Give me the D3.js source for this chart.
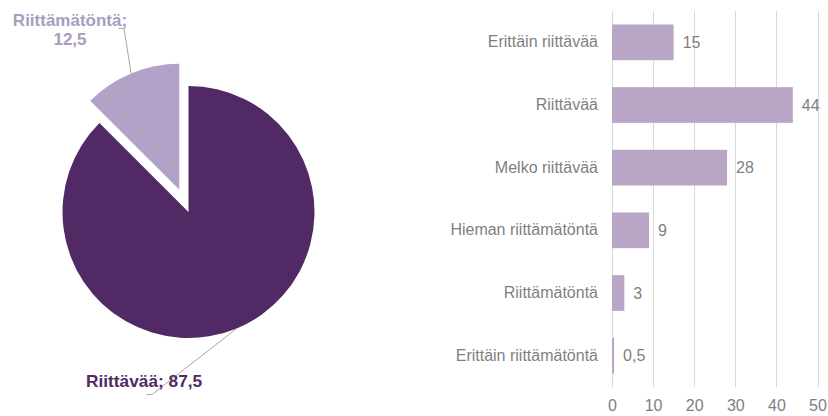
<!DOCTYPE html>
<html>
<head>
<meta charset="utf-8">
<script src="https://cdn.jsdelivr.net/npm/d3@7"></script>
<style>
  html, body { margin: 0; padding: 0; background: #ffffff; }
  svg { display: block; font-family: "Liberation Sans", Arial, sans-serif; }
</style>
</head>
<body>
<svg id="chart" width="828" height="416"></svg>
<script>
// ---- Data ----
const pieLabels = ["Riittävää", "Riittämätöntä"];
const pieValues = [87.5, 12.5];
const pieValueText = ["87,5", "12,5"];

const barCategories = ["Erittäin riittävää", "Riittävää", "Melko riittävää", "Hieman riittämätöntä", "Riittämätöntä", "Erittäin riittämätöntä"];
const barValues = [15, 44, 28, 9, 3, 0.5];
const barValueText = ["15", "44", "28", "9", "3", "0,5"];
const xTicks = [0, 10, 20, 30, 40, 50];

// ---- Styles ----
const pieColors = ["#512a65", "#b3a2c8"];
const barColor = "#b9a6c7";
const gridColor = "#d9d9d9";
const textGray = "#7f7f7f";
const leaderColor = "#a6a6a6";

const svg = d3.select("#chart");

// ---- Pie ----
const cx = 188.5, cy = 212, R = 126, explode = 24;
const pie = d3.pie().sort(null).value(d => d);
const arcs = pie(pieValues);
const arcGen = d3.arc().innerRadius(0).outerRadius(R);

const pieG = svg.append("g").attr("transform", `translate(${cx},${cy})`);
arcs.forEach((a, i) => {
  const mid = (a.startAngle + a.endAngle) / 2;
  const off = i === 1 ? explode : 0;
  const ox = Math.sin(mid) * off, oy = -Math.cos(mid) * off;
  a.ox = ox; a.oy = oy; a.mid = mid;
  pieG.append("path")
    .attr("d", arcGen(a))
    .attr("transform", `translate(${ox},${oy})`)
    .attr("fill", pieColors[i]);
});

// Leader lines
function arcPoint(a) {
  return [cx + a.ox + Math.sin(a.mid) * R, cy + a.oy - Math.cos(a.mid) * R];
}
// main slice label (bottom)
{
  const p = arcPoint(arcs[0]);
  svg.append("polyline")
    .attr("points", `${p[0]},${p[1]} 152,394.5 146.5,394.5`)
    .attr("fill", "none").attr("stroke", leaderColor).attr("stroke-width", 1);
  svg.append("text")
    .attr("x", 86).attr("y", 387)
    .attr("font-size", 17.3).attr("font-weight", "bold")
    .attr("fill", pieColors[0])
    .text(`${pieLabels[0]}; ${pieValueText[0]}`);
}
// small slice label (top)
{
  const p = arcPoint(arcs[1]);
  svg.append("polyline")
    .attr("points", `${p[0]},${p[1]} 124,28.5 118.5,28.5`)
    .attr("fill", "none").attr("stroke", leaderColor).attr("stroke-width", 1);
  const t = svg.append("text")
    .attr("x", 70).attr("y", 26)
    .attr("font-size", 17).attr("font-weight", "bold")
    .attr("fill", "#a99cbf").attr("text-anchor", "middle");
  t.append("tspan").attr("x", 70).attr("y", 26).text(`${pieLabels[1]};`);
  t.append("tspan").attr("x", 70).attr("y", 44.5).text(pieValueText[1]);
}

// ---- Bar chart ----
const x = d3.scaleLinear().domain([0, 50]).range([612, 817.5]);
const y = d3.scaleBand().domain(barCategories).range([11, 387])
  .paddingInner(0.43).paddingOuter(0.215);

// gridlines
svg.append("g").selectAll("line").data(xTicks).join("line")
  .attr("x1", d => Math.round(x(d)) + 0.5).attr("x2", d => Math.round(x(d)) + 0.5)
  .attr("y1", 11).attr("y2", 387)
  .attr("stroke", gridColor).attr("stroke-width", 1);

// x axis
const xAxis = d3.axisBottom(x).tickValues(xTicks).tickSize(0).tickPadding(0).tickFormat(d3.format("d"));
const xg = svg.append("g").attr("transform", "translate(0,400)").call(xAxis);
xg.select(".domain").remove();
xg.selectAll("text").attr("font-size", 16).attr("fill", textGray)
  .attr("font-family", "Liberation Sans, Arial, sans-serif").attr("dy", "0.71em");

// y axis labels
const yAxis = d3.axisLeft(y).tickSize(0).tickPadding(0);
const yg = svg.append("g").attr("transform", "translate(598,0)").call(yAxis);
yg.select(".domain").remove();
yg.selectAll("text").attr("font-size", 16).attr("fill", textGray)
  .attr("font-family", "Liberation Sans, Arial, sans-serif");

// bars
svg.append("g").selectAll("rect").data(barValues).join("rect")
  .attr("x", x(0))
  .attr("y", (d, i) => y(barCategories[i]))
  .attr("width", d => x(d) - x(0))
  .attr("height", y.bandwidth())
  .attr("fill", barColor);

// value labels
svg.append("g").selectAll("text").data(barValues).join("text")
  .attr("x", d => x(d) + 9)
  .attr("y", (d, i) => y(barCategories[i]) + y.bandwidth() / 2)
  .attr("dy", "0.35em")
  .attr("font-size", 16).attr("fill", textGray)
  .text((d, i) => barValueText[i]);
</script>
</body>
</html>
